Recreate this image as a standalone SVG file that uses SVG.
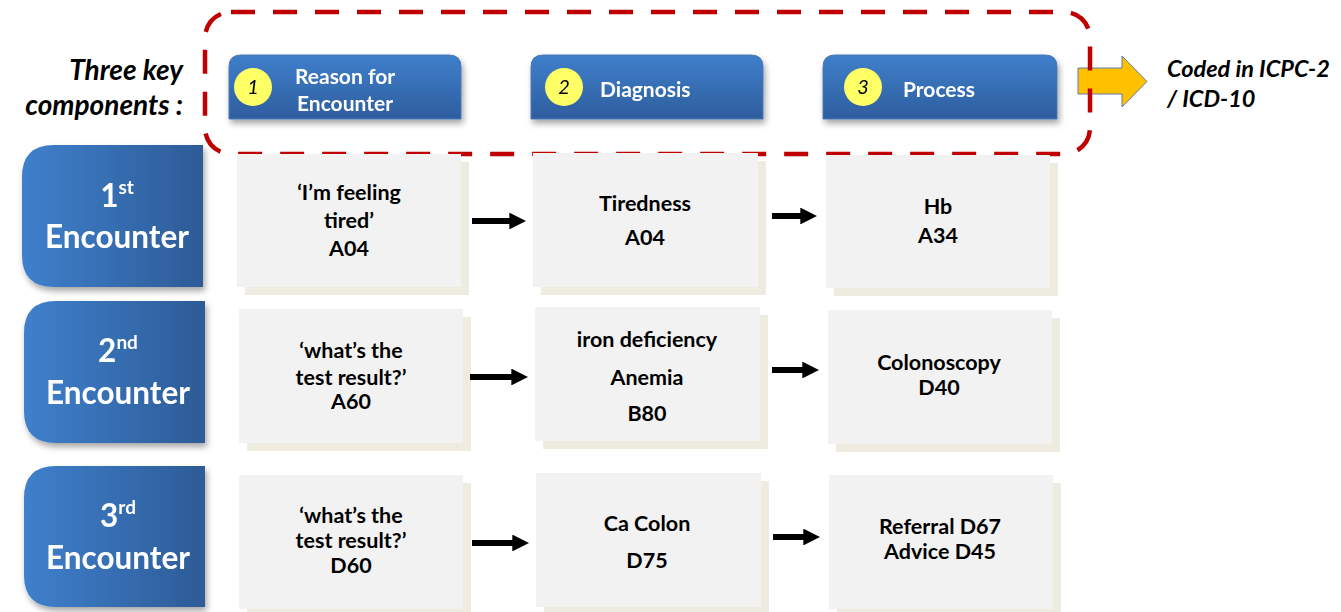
<svg xmlns="http://www.w3.org/2000/svg" width="1341" height="612" viewBox="0 0 1341 612">
  <defs>
    <linearGradient id="hdrGrad" x1="0" y1="0" x2="0" y2="1">
      <stop offset="0" stop-color="#3F7FCB"/>
      <stop offset="1" stop-color="#2E5E9E"/>
    </linearGradient>
    <linearGradient id="encGrad" x1="0" y1="0" x2="1" y2="0">
      <stop offset="0" stop-color="#3F80CC"/>
      <stop offset="1" stop-color="#2D5B97"/>
    </linearGradient>
    <filter id="shadow" x="-10%" y="-10%" width="125%" height="135%">
      <feDropShadow dx="2" dy="4" stdDeviation="3" flood-color="#000" flood-opacity="0.35"/>
    </filter>
    <marker id="arrowHead" viewBox="0 0 10 10" refX="1" refY="5" markerWidth="2.8" markerHeight="2.8" orient="auto" markerUnits="strokeWidth">
      <path d="M0,0 L10,5 L0,10 Z" fill="#000"/>
    </marker>
  </defs>
  <style>
    .lbl { font-family: Lato, "Open Sans", "Liberation Sans", sans-serif; font-weight: bold; }
    .hdr { fill: #FFFFFF; font-size: 21px; }
    .num { font-family: Lato, "Liberation Sans", sans-serif; font-style: italic; font-size: 20px; fill: #000; text-anchor: middle; }
    .enc { fill: #FFFFFF; font-size: 31.5px; text-anchor: middle; }
    .sup { font-size: 19px; }
    .box { fill: #F2F2F2; }
    .boxShade { fill: #EEECE1; }
    .body { fill: #000; font-size: 21.5px; text-anchor: middle; }
    .side { fill: #000; font-size: 28px; font-style: italic; }
    .note { fill: #000; font-size: 23.5px; font-style: italic; }
    .flow { stroke: #000; stroke-width: 6; fill: none; marker-end: url(#arrowHead); }
    .coin { fill: #FFFF66; }
  </style>

  <!-- side label -->
  <g id="side-label" class="lbl">
    <text class="side" x="183" y="80" text-anchor="end">Three key</text>
    <text class="side" x="183" y="115" text-anchor="end">components :</text>
  </g>

  <!-- output arrow and note -->
  <g id="coded-note">
    <path d="M1078,68 L1122,68 L1122,56 L1147,81.5 L1122,107 L1122,94 L1078,94 Z" fill="#FFC000" stroke="#5B7DB0" stroke-width="1"/>
    <text class="lbl note" x="1167" y="77">Coded in ICPC-2</text>
    <text class="lbl note" x="1167" y="107">/ ICD-10</text>
  </g>

  <!-- dashed frame around the component headers -->
  <rect id="component-frame" x="205" y="12" width="885" height="142" rx="26" fill="none" stroke="#C00000" stroke-width="4.5" stroke-dasharray="24 18"/>

  <!-- component headers -->
  <g id="hdr-reason" filter="url(#shadow)">
    <path d="M229,119 L229,67 Q229,55 241,55 L449,55 Q461,55 461,67 L461,119 Z" fill="url(#hdrGrad)" stroke="#4A78B8" stroke-width="1"/>
    <circle class="coin" cx="253" cy="87" r="19"/>
    <text class="num" x="253" y="94">1</text>
    <text class="lbl hdr" x="345" y="84" text-anchor="middle">Reason for</text>
    <text class="lbl hdr" x="345" y="111" text-anchor="middle">Encounter</text>
  </g>
  <g id="hdr-diagnosis" filter="url(#shadow)">
    <path d="M531,119 L531,67 Q531,55 543,55 L751,55 Q763,55 763,67 L763,119 Z" fill="url(#hdrGrad)" stroke="#4A78B8" stroke-width="1"/>
    <circle class="coin" cx="564" cy="87" r="19"/>
    <text class="num" x="564" y="94">2</text>
    <text class="lbl hdr" x="600" y="97">Diagnosis</text>
  </g>
  <g id="hdr-process" filter="url(#shadow)">
    <path d="M823,119 L823,67 Q823,55 835,55 L1045,55 Q1057,55 1057,67 L1057,119 Z" fill="url(#hdrGrad)" stroke="#4A78B8" stroke-width="1"/>
    <circle class="coin" cx="863" cy="87" r="19"/>
    <text class="num" x="863" y="94">3</text>
    <text class="lbl hdr" x="903" y="97">Process</text>
  </g>

  <!-- encounter labels -->
  <g id="enc-1" filter="url(#shadow)">
    <path d="M22,177 Q22,145 54,145 L203,145 L203,287 L54,287 Q22,287 22,255 Z" fill="url(#encGrad)"/>
    <text class="lbl enc" x="117" y="207">1<tspan class="sup" dy="-13">st</tspan></text>
    <text class="lbl enc" x="117" y="248">Encounter</text>
  </g>
  <g id="enc-2" filter="url(#shadow)">
    <path d="M24,333 Q24,301 56,301 L205,301 L205,443 L56,443 Q24,443 24,411 Z" fill="url(#encGrad)"/>
    <text class="lbl enc" x="118" y="362">2<tspan class="sup" dy="-13">nd</tspan></text>
    <text class="lbl enc" x="118" y="404">Encounter</text>
  </g>
  <g id="enc-3" filter="url(#shadow)">
    <path d="M24,498 Q24,466 56,466 L205,466 L205,607 L56,607 Q24,607 24,575 Z" fill="url(#encGrad)"/>
    <text class="lbl enc" x="118" y="527">3<tspan class="sup" dy="-13">rd</tspan></text>
    <text class="lbl enc" x="118" y="569">Encounter</text>
  </g>

  <!-- row 1 -->
  <g id="r1-reason">
    <rect class="boxShade" x="245" y="162" width="224" height="133"/>
    <rect class="box" x="237" y="154" width="224" height="133"/>
    <text class="lbl body" x="349" y="200">‘I’m feeling</text>
    <text class="lbl body" x="349" y="228">tired’</text>
    <text class="lbl body" x="349" y="256">A04</text>
  </g>
  <g id="r1-diagnosis">
    <rect class="boxShade" x="541" y="161" width="225" height="134"/>
    <rect class="box" x="533" y="153" width="225" height="134"/>
    <text class="lbl body" x="645" y="211">Tiredness</text>
    <text class="lbl body" x="645" y="245">A04</text>
  </g>
  <g id="r1-process">
    <rect class="boxShade" x="834" y="163" width="224" height="133"/>
    <rect class="box" x="826" y="155" width="224" height="133"/>
    <text class="lbl body" x="938" y="214">Hb</text>
    <text class="lbl body" x="938" y="243">A34</text>
  </g>

  <!-- row 2 -->
  <g id="r2-reason">
    <rect class="boxShade" x="247" y="317" width="224" height="134"/>
    <rect class="box" x="239" y="309" width="224" height="134"/>
    <text class="lbl body" x="351" y="358">‘what’s the</text>
    <text class="lbl body" x="351" y="385">test result?’</text>
    <text class="lbl body" x="351" y="409">A60</text>
  </g>
  <g id="r2-diagnosis">
    <rect class="boxShade" x="543" y="315" width="225" height="134"/>
    <rect class="box" x="535" y="307" width="225" height="134"/>
    <text class="lbl body" x="647" y="347">iron deficiency</text>
    <text class="lbl body" x="647" y="385">Anemia</text>
    <text class="lbl body" x="647" y="421">B80</text>
  </g>
  <g id="r2-process">
    <rect class="boxShade" x="836" y="318" width="224" height="134"/>
    <rect class="box" x="828" y="310" width="224" height="134"/>
    <text class="lbl body" x="939" y="370">Colonoscopy</text>
    <text class="lbl body" x="939" y="395">D40</text>
  </g>

  <!-- row 3 -->
  <g id="r3-reason">
    <rect class="boxShade" x="247" y="483" width="224" height="134"/>
    <rect class="box" x="239" y="475" width="224" height="134"/>
    <text class="lbl body" x="351" y="523">‘what’s the</text>
    <text class="lbl body" x="351" y="548">test result?’</text>
    <text class="lbl body" x="351" y="573">D60</text>
  </g>
  <g id="r3-diagnosis">
    <rect class="boxShade" x="544" y="481" width="225" height="134"/>
    <rect class="box" x="536" y="473" width="225" height="134"/>
    <text class="lbl body" x="647" y="531">Ca Colon</text>
    <text class="lbl body" x="647" y="568">D75</text>
  </g>
  <g id="r3-process">
    <rect class="boxShade" x="837" y="483" width="224" height="134"/>
    <rect class="box" x="829" y="475" width="224" height="134"/>
    <text class="lbl body" x="940" y="534">Referral D67</text>
    <text class="lbl body" x="940" y="559">Advice D45</text>
  </g>

  <!-- connectors -->
  <g id="connectors">
    <line class="flow" x1="472" y1="221" x2="511" y2="221"/>
    <line class="flow" x1="772" y1="216" x2="802" y2="216"/>
    <line class="flow" x1="470" y1="377" x2="513" y2="377"/>
    <line class="flow" x1="772" y1="370" x2="804" y2="370"/>
    <line class="flow" x1="472" y1="543" x2="514" y2="543"/>
    <line class="flow" x1="773" y1="537" x2="805" y2="537"/>
  </g>
</svg>
